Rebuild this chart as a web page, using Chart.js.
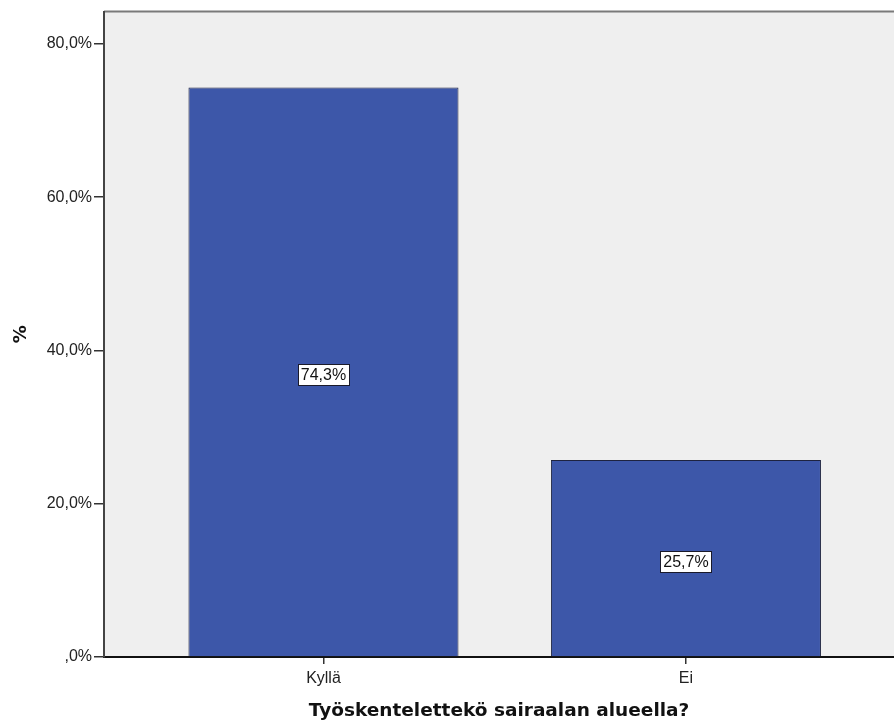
<!DOCTYPE html>
<html>
<head>
<meta charset="utf-8">
<script src="https://cdn.jsdelivr.net/npm/chart.js@4/dist/chart.umd.min.js"></script>
<style>
html,body{margin:0;padding:0;background:#fff;}
#wrap{width:894px;height:726px;position:relative;}
</style>
</head>
<body>
<div id="wrap"><canvas id="c" width="894" height="726"></canvas></div>
<script>
const categories = ['Kyllä', 'Ei'];
const values = [74.3, 25.7];
const valueLabels = ['74,3%', '25,7%'];
const yTicks = [0, 20, 40, 60, 80];
const yTickLabels = [',0%', '20,0%', '40,0%', '60,0%', '80,0%'];
const xTitle = 'Työskentelettekö sairaalan alueella?';
const yTitle = '%';

const tickFont = {family: '"Liberation Sans", Arial, sans-serif', size: 16};

const bgPlugin = {
  id: 'bg',
  beforeDraw(chart) {
    const {ctx, chartArea: a} = chart;
    ctx.save();
    ctx.fillStyle = '#efefef';
    ctx.fillRect(a.left, a.top, a.right - a.left, a.bottom - a.top);
    ctx.strokeStyle = '#7a7a7a';
    ctx.lineWidth = 2;
    ctx.beginPath();
    ctx.moveTo(a.left, a.top);
    ctx.lineTo(a.right, a.top);
    ctx.stroke();
    ctx.restore();
  }
};

const labelPlugin = {
  id: 'vlabels',
  afterDatasetsDraw(chart) {
    const {ctx} = chart;
    const meta = chart.getDatasetMeta(0);
    ctx.save();
    ctx.font = '16px "Liberation Sans", Arial, sans-serif';
    ctx.textAlign = 'center';
    ctx.textBaseline = 'middle';
    meta.data.forEach((bar, i) => {
      const cx = bar.x;
      const cy = (bar.y + bar.base) / 2 + 3;
      const txt = valueLabels[i];
      const w = ctx.measureText(txt).width + 6;
      const h = 21;
      ctx.fillStyle = '#ffffff';
      ctx.fillRect(Math.round(cx - w / 2) + 0.5, Math.round(cy - h / 2) + 0.5, Math.round(w), h);
      ctx.strokeStyle = '#1a1a2a';
      ctx.lineWidth = 1;
      ctx.strokeRect(Math.round(cx - w / 2) + 0.5, Math.round(cy - h / 2) + 0.5, Math.round(w), h);
      ctx.fillStyle = '#111';
      ctx.fillText(txt, cx, cy + 1);
    });
    ctx.restore();
  }
};

new Chart(document.getElementById('c'), {
  type: 'bar',
  data: {
    datasets: [{
      data: categories.map((c, i) => ({x: i, y: values[i]})),
      backgroundColor: '#3d57a9',
      borderColor: '#1e2340',
      borderWidth: 1,
      barPercentage: 0.745,
      categoryPercentage: 1
    }]
  },
  options: {
    responsive: false,
    animation: false,
    layout: {padding: {left: 0, right: 0, top: 9, bottom: 0}},
    plugins: {legend: {display: false}, tooltip: {enabled: false}},
    scales: {
      x: {
        type: 'linear',
        offset: false,
        min: -0.6055,
        max: 1.574,
        afterBuildTicks: s => { s.ticks = categories.map((c, i) => ({value: i})); },
        afterFit: s => { s.height = 69; },
        ticks: {
          callback: v => categories[v],
          font: tickFont,
          color: '#222',
          padding: 5,
          autoSkip: false,
          maxRotation: 0
        },
        grid: {offset: false, drawOnChartArea: false, tickLength: 7, color: '#333', lineWidth: 1.5},
        border: {display: true, color: '#111', width: 2},
        title: {
          display: true,
          text: xTitle,
          color: '#111',
          font: {family: '"DejaVu Sans", Verdana, sans-serif', size: 18.5, weight: 'bold', lineHeight: 1.2},
          padding: {top: 0, bottom: 4}
        }
      },
      y: {
        min: 0,
        max: 84.2,
        afterBuildTicks: s => { s.ticks = yTicks.map(v => ({value: v})); },
        afterFit: s => { s.width = 104; },
        ticks: {
          callback: (v) => yTickLabels[yTicks.indexOf(v)],
          font: tickFont,
          color: '#222',
          padding: 2
        },
        grid: {drawOnChartArea: false, tickLength: 10, color: '#333', lineWidth: 1.5},
        border: {display: true, color: '#444', width: 2},
        title: {
          display: true,
          text: yTitle,
          color: '#111',
          font: {family: '"DejaVu Sans", Verdana, sans-serif', size: 18, weight: 'bold', lineHeight: 2.4},
          padding: 0
        }
      }
    }
  },
  plugins: [bgPlugin, labelPlugin]
});
</script>
</body>
</html>
